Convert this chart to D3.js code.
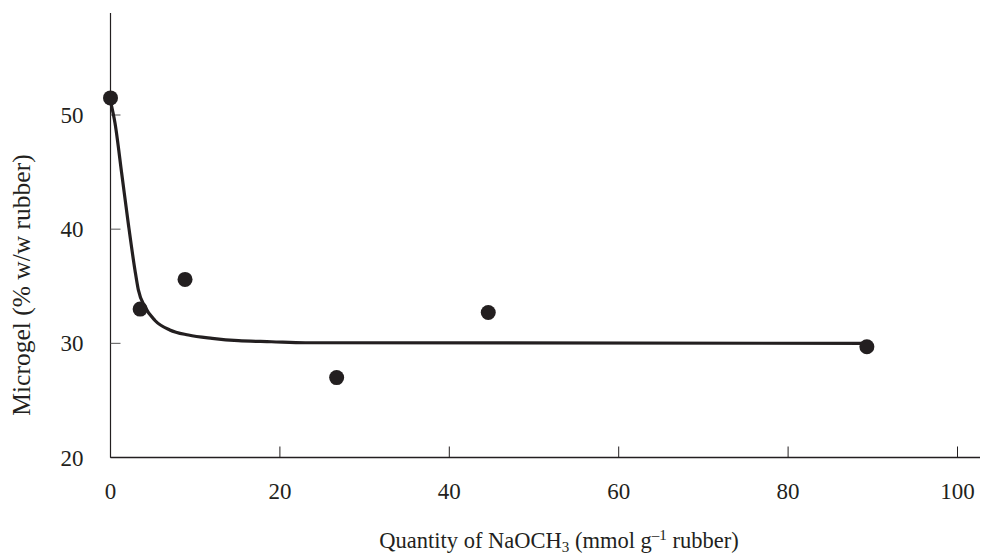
<!DOCTYPE html>
<meta charset="utf-8" />
<script src="https://d3js.org/d3.v7.min.js"></script>
<style>
  body { margin: 0; background: #fff; }
  text { font-family: "Liberation Serif", "DejaVu Serif", serif; fill: #231f20; }
</style>
<div id="chart"></div>
<script>
  // measured points
  const doseX = [0, 3.5, 8.8, 26.7, 44.6, 89.3];
  const microgelY = [51.5, 33.0, 35.6, 27.0, 32.7, 29.7];

  // fitted curve
  const fitX = [0, 0.53, 1.32, 2.1, 2.89, 3.28, 4.07, 5.25, 7.0, 9.2, 12, 15.1, 19, 23, 89.3];
  const fitY = [51.2, 49.3, 44.9, 40.5, 36.4, 34.7, 33.2, 32.0, 31.17, 30.73, 30.44, 30.23, 30.14, 30.05, 30.0];

  const xTicks = [0, 20, 40, 60, 80, 100];
  const yTicks = [20, 30, 40, 50];

  const W = 991, H = 556;
  const padL = 110.5, padR = 980, padT = 13, padB = 457.5;

  const svg = d3.select("#chart").append("svg")
    .attr("width", W).attr("height", H);

  const x = d3.scaleLinear().domain([0, 100]).range([padL, 957.5]);
  const y = d3.scaleLinear().domain([20, 50]).range([padB, 115]);

  // y axis
  const yAxis = svg.append("g").attr("transform", `translate(${padL},0)`);
  yAxis.append("line")
    .attr("y1", padT).attr("y2", padB)
    .attr("stroke", "#231f20").attr("stroke-width", 1.2);
  yAxis.selectAll(".yt").data(yTicks).join("line")
    .attr("x1", 0).attr("x2", 10)
    .attr("y1", d => y(d)).attr("y2", d => y(d))
    .attr("stroke", "#555").attr("stroke-width", 1);
  yAxis.selectAll(".yl").data(yTicks).join("text")
    .attr("x", -27).attr("y", d => y(d) + 8)
    .attr("text-anchor", "end")
    .style("font-size", "23px")
    .text(d => d);

  // x axis
  const xAxis = svg.append("g").attr("transform", `translate(0,${padB})`);
  xAxis.append("line")
    .attr("x1", padL).attr("x2", padR)
    .attr("stroke", "#231f20").attr("stroke-width", 1.5);
  xAxis.selectAll(".xt").data(xTicks).join("line")
    .attr("x1", d => x(d)).attr("x2", d => x(d))
    .attr("y1", 0).attr("y2", -11)
    .attr("stroke", "#231f20").attr("stroke-width", 1);
  xAxis.selectAll(".xl").data(xTicks).join("text")
    .attr("x", d => x(d)).attr("y", 41)
    .attr("text-anchor", "middle")
    .style("font-size", "23px")
    .text(d => d);

  // fitted line
  const line = d3.line()
    .x(d => x(d[0])).y(d => y(d[1]))
    .curve(d3.curveMonotoneX);
  svg.append("path")
    .datum(fitX.map((v, i) => [v, fitY[i]]))
    .attr("d", line)
    .attr("fill", "none")
    .attr("stroke", "#231f20")
    .attr("stroke-width", 3.2);

  // dots
  svg.selectAll(".dot").data(doseX).join("circle")
    .attr("cx", d => x(d))
    .attr("cy", (d, i) => y(microgelY[i]))
    .attr("r", 7.5)
    .attr("fill", "#231f20");

  // axis titles
  const xt = svg.append("text")
    .attr("x", 559).attr("y", 548)
    .attr("text-anchor", "middle")
    .style("font-size", "22.5px");
  xt.append("tspan").text("Quantity of NaOCH");
  xt.append("tspan").attr("dy", 4).style("font-size", "15px").text("3");
  xt.append("tspan").attr("dy", -4).text(" (mmol g");
  xt.append("tspan").attr("dy", -8).style("font-size", "15px").text("\u20131");
  xt.append("tspan").attr("dy", 8).text(" rubber)");

  svg.append("text")
    .attr("transform", "translate(30,285) rotate(-90)")
    .attr("text-anchor", "middle")
    .style("font-size", "25.5px")
    .text("Microgel (% w/w rubber)");
</script>
